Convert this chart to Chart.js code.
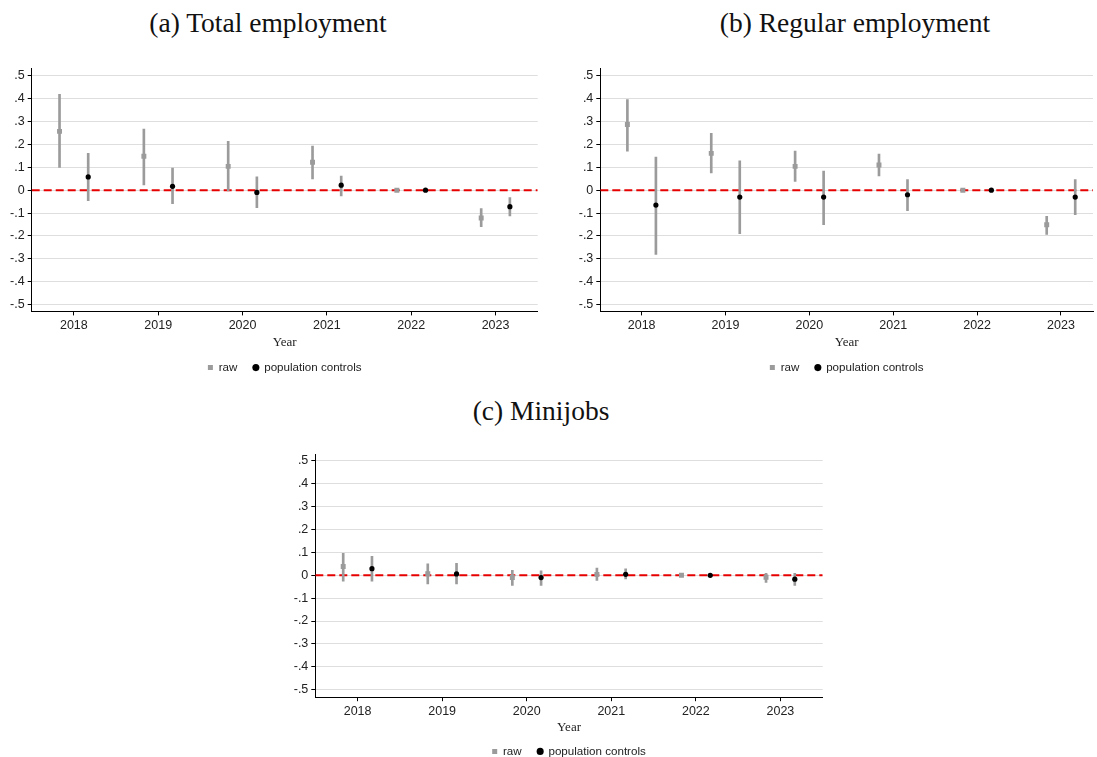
<!DOCTYPE html>
<html>
<head>
<meta charset="utf-8">
<script src="https://cdn.jsdelivr.net/npm/chart.js@4.4.1/dist/chart.umd.min.js"></script>
<style>
  html, body { margin: 0; padding: 0; background: #fff; }
  body { width: 1097px; height: 757px; overflow: hidden; position: relative; }
  canvas { position: absolute; }
  .title {
    position: absolute; white-space: nowrap; color: #111;
    font-family: 'Liberation Serif', 'Times New Roman', serif; font-size: 27.5px;
    transform: translate(-50%, -50%);
  }
</style>
</head>
<body>
<div class="title" style="left:268px; top:23px">(a) Total employment</div>
<div class="title" style="left:855px; top:23px">(b) Regular employment</div>
<div class="title" style="left:541px; top:411px">(c) Minijobs</div>

<canvas id="chartTotal" width="545" height="330" style="left:0px; top:58px"></canvas>
<canvas id="chartRegular" width="527" height="330" style="left:570px; top:58px"></canvas>
<canvas id="chartMini" width="545" height="330" style="left:285px; top:443.5px"></canvas>

<script>
// Event-study coefficients by year (2022 is the reference year)
const years  = [2018, 2019, 2020, 2021, 2022, 2023];
const yTicks = [-0.5, -0.4, -0.3, -0.2, -0.1, 0, 0.1, 0.2, 0.3, 0.4, 0.5];

// (a) Total employment
const totalRaw   = [0.257, 0.148, 0.104, 0.122, 0, -0.122];
const totalRawLo = [0.099, 0.023, -0.003, 0.049, 0, -0.159];
const totalRawHi = [0.419, 0.267, 0.214, 0.193, 0, -0.081];
const totalPop   = [0.058, 0.017, -0.010, 0.022, 0, -0.072];
const totalPopLo = [-0.046, -0.059, -0.077, -0.025, 0, -0.112];
const totalPopHi = [0.161, 0.097, 0.058, 0.062, 0, -0.032];

// (b) Regular employment
const regularRaw   = [0.287, 0.161, 0.104, 0.110, 0, -0.151];
const regularRawLo = [0.171, 0.075, 0.038, 0.062, 0, -0.193];
const regularRawHi = [0.396, 0.249, 0.171, 0.158, 0, -0.114];
const regularPop   = [-0.065, -0.030, -0.030, -0.020, 0, -0.030];
const regularPopLo = [-0.281, -0.190, -0.151, -0.090, 0, -0.107];
const regularPopHi = [0.145, 0.128, 0.084, 0.046, 0, 0.046];

// (c) Minijobs
const miniRaw   = [0.038, 0.007, -0.010, 0.004, 0, -0.009];
const miniRawLo = [-0.026, -0.038, -0.044, -0.022, 0, -0.031];
const miniRawHi = [0.096, 0.050, 0.022, 0.032, 0, 0.009];
const miniPop   = [0.029, 0.006, -0.010, 0.004, 0, -0.017];
const miniPopLo = [-0.026, -0.038, -0.044, -0.016, 0, -0.044];
const miniPopHi = [0.083, 0.052, 0.019, 0.028, 0, 0.009];

const RAW_LABEL = 'raw';
const POP_LABEL = 'population controls';
const SHIFT = 0.17;           // horizontal offset of the two estimates around each year
const GREY = '#9b9b9b';
const SANS = "'Liberation Sans', Arial, sans-serif";
const SERIF = "'Liberation Serif', 'Times New Roman', serif";

function fmtTick(v) {
  if (Math.abs(v) < 1e-9) return '0';
  return (Math.round(v * 10) / 10).toString().replace('0.', '.');
}

function buildPanel(canvasId, s, geo) {
  const pts = (vals, d) => years.map((yr, i) => ({ x: yr + d, y: vals[i] }));
  const ci  = (lo, hi, d) => years.map((yr, i) => ({ x: yr + d, y: [lo[i], hi[i]] }));

  new Chart(document.getElementById(canvasId), {
    type: 'scatter',
    data: {
      datasets: [
        { label: RAW_LABEL, data: pts(s.raw, -SHIFT), pointStyle: 'rect', pointRadius: 3.5,
          backgroundColor: GREY, borderColor: GREY, borderWidth: 0, pointBorderWidth: 0, order: 1 },
        { label: POP_LABEL, data: pts(s.pop, SHIFT), pointStyle: 'circle', pointRadius: 2.6,
          backgroundColor: '#000', borderColor: '#000', borderWidth: 0, pointBorderWidth: 0, order: 1 },
        { type: 'bar', label: 'raw CI', data: ci(s.rawLo, s.rawHi, -SHIFT), backgroundColor: GREY,
          barThickness: 2, grouped: false, order: 2 },
        { type: 'bar', label: 'pop CI', data: ci(s.popLo, s.popHi, SHIFT), backgroundColor: GREY,
          barThickness: 2, grouped: false, order: 2 },
        { type: 'line', label: 'zero', data: [{ x: geo.xMin, y: 0 }, { x: geo.xMax, y: 0 }],
          borderColor: '#e60000', borderWidth: 2, borderDash: [8, 4], pointRadius: 0, order: 3 }
      ]
    },
    options: {
      responsive: false,
      animation: false,
      layout: { padding: { top: geo.padTop, right: geo.padRight, bottom: geo.padBottom, left: 0 } },
      plugins: {
        tooltip: { enabled: false },
        title: { display: false },
        legend: {
          position: 'bottom',
          fullSize: false,
          labels: {
            filter: (item) => item.text === RAW_LABEL || item.text === POP_LABEL,
            usePointStyle: true,
            boxWidth: 5, boxHeight: 5,
            padding: 16,
            color: '#222',
            font: { family: SANS, size: 11.6 }
          }
        }
      },
      scales: {
        x: {
          type: 'linear',
          offset: false,
          min: geo.xMin, max: geo.xMax,
          afterBuildTicks: (sc) => { sc.ticks = years.map(v => ({ value: v })); },
          afterFit: (sc) => { sc.height = geo.xHeight; },
          ticks: { autoSkip: false, padding: 3, color: '#222', font: { family: SANS, size: 12.5 },
                   callback: (v) => String(v) },
          grid: { offset: false, drawOnChartArea: false, drawTicks: true, tickLength: 4, tickColor: '#000' },
          border: { display: true, color: '#000', width: 1 },
          title: { display: true, text: 'Year', color: '#222', font: { family: SERIF, size: 13 },
                   padding: { top: 0, bottom: geo.titlePad } }
        },
        y: {
          min: geo.yMin, max: geo.yMax,
          afterBuildTicks: (sc) => { sc.ticks = yTicks.map(v => ({ value: v })); },
          afterFit: (sc) => { sc.width = geo.yWidth; },
          ticks: { autoSkip: false, padding: 3, color: '#222', font: { family: SANS, size: 12.5 },
                   callback: (v) => fmtTick(v) },
          grid: { color: '#dedede', lineWidth: 1, drawTicks: true, tickLength: 4, tickColor: '#000' },
          border: { display: true, color: '#000', width: 1 }
        }
      }
    }
  });
}

buildPanel('chartTotal',
  { raw: totalRaw, rawLo: totalRawLo, rawHi: totalRawHi, pop: totalPop, popLo: totalPopLo, popHi: totalPopHi },
  { xMin: 2017.5, xMax: 2023.5, yMin: -0.53, yMax: 0.532, yWidth: 31.7,
    padTop: 7, padRight: 7.3, padBottom: 4.6, xHeight: 34.4, titlePad: -5 });

buildPanel('chartRegular',
  { raw: regularRaw, rawLo: regularRawLo, rawHi: regularRawHi, pop: regularPop, popLo: regularPopLo, popHi: regularPopHi },
  { xMin: 2017.507, xMax: 2023.382, yMin: -0.53, yMax: 0.532, yWidth: 30.3,
    padTop: 7, padRight: 0, padBottom: 4.6, xHeight: 34.4, titlePad: -5 });

buildPanel('chartMini',
  { raw: miniRaw, rawLo: miniRawLo, rawHi: miniRawHi, pop: miniPop, popLo: miniPopLo, popHi: miniPopHi },
  { xMin: 2017.5, xMax: 2023.5, yMin: -0.533, yMax: 0.528, yWidth: 30.3,
    padTop: 8.3, padRight: 7.3, padBottom: 6.8, xHeight: 32.4, titlePad: -6 });
</script>
</body>
</html>
